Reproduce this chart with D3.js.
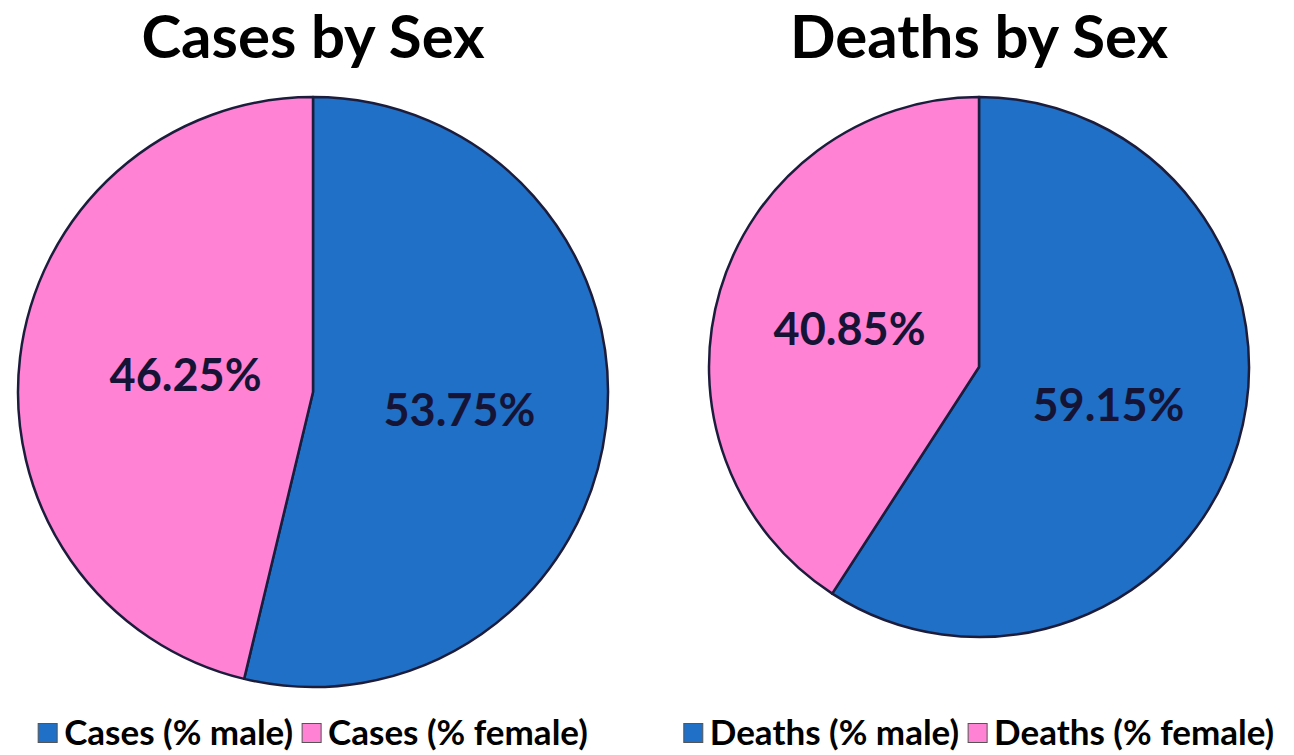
<!DOCTYPE html>
<html><head><meta charset="utf-8">
<script src="https://cdn.jsdelivr.net/npm/d3@7"></script>
<style>html,body{margin:0;padding:0;background:#fff;}</style>
</head><body>
<svg id="chart" width="1294" height="755"></svg>
<script>
const titles = ["Cases by Sex", "Deaths by Sex"];
const categories = ["male", "female"];
const casesValues = [53.75, 46.25];
const deathsValues = [59.15, 40.85];
const legendLabels = [
  ["Cases (% male)", "Cases (% female)"],
  ["Deaths (% male)", "Deaths (% female)"]
];

const colors = d3.scaleOrdinal().domain(categories).range(["#1f70c6", "#ff82d4"]);
const stroke = "#1c1d3d";
const labelColor = "#161436";
const font = "Lato, 'Open Sans', sans-serif";

const svg = d3.select("#chart");
const pies = [
  {title: titles[0], values: casesValues, legend: legendLabels[0], cx: 313, cy: 392, r: 295, nudge: [0, 19]},
  {title: titles[1], values: deathsValues, legend: legendLabels[1], cx: 979, cy: 367, r: 270, nudge: [0, 0]}
];

const pie = d3.pie().sort(null).value(d => d.v);

pies.forEach(p => {
  const g = svg.append("g").attr("transform", `translate(${p.cx},${p.cy})`);
  const data = pie(categories.map((c, i) => ({c, v: p.values[i]})));
  const arc = d3.arc().innerRadius(0).outerRadius(p.r);
  const labelArc = d3.arc().innerRadius(p.r * 0.5).outerRadius(p.r * 0.5);

  g.selectAll("path").data(data).join("path")
    .attr("d", arc)
    .attr("fill", d => colors(d.data.c))
    .attr("stroke", stroke)
    .attr("stroke-width", 2.5)
    .attr("stroke-linejoin", "round");

  g.selectAll("text.lbl").data(data).join("text")
    .attr("class", "lbl")
    .attr("x", (d, i) => labelArc.centroid(d)[0] + p.nudge[i])
    .attr("y", d => labelArc.centroid(d)[1])
    .attr("dy", "0.36em")
    .attr("text-anchor", "middle")
    .attr("font-family", font)
    .attr("font-weight", "bold")
    .attr("font-size", 45)
    .attr("fill", labelColor)
    .text(d => d.data.v.toFixed(2) + "%");

  svg.append("text")
    .attr("x", p.cx)
    .attr("y", 58)
    .attr("text-anchor", "middle")
    .attr("font-family", font)
    .attr("font-weight", "bold")
    .attr("font-size", 60)
    .attr("fill", "#000")
    .text(p.title);

  // legend
  const lg = svg.append("g");
  const sq = 19, gap = 7, itemGap = 9, fs = 35, ly = 733;
  const items = lg.selectAll("g").data(categories).join("g");
  items.append("rect")
    .attr("width", sq).attr("height", sq)
    .attr("y", ly - sq / 2)
    .attr("fill", d => colors(d))
    .attr("stroke", "#555").attr("stroke-width", 1);
  items.append("text")
    .attr("x", sq + gap)
    .attr("y", ly)
    .attr("dy", "0.35em")
    .attr("font-family", font)
    .attr("font-weight", "bold")
    .attr("font-size", fs)
    .attr("fill", "#000")
    .text((d, i) => p.legend[i]);
  let x = 0;
  items.each(function() {
    const w = d3.select(this).select("text").node().getComputedTextLength();
    d3.select(this).attr("transform", `translate(${x},0)`);
    x += sq + gap + w + itemGap;
  });
  const total = x - itemGap;
  lg.attr("transform", `translate(${p.cx - total / 2},0)`);
});
</script>
</body></html>
